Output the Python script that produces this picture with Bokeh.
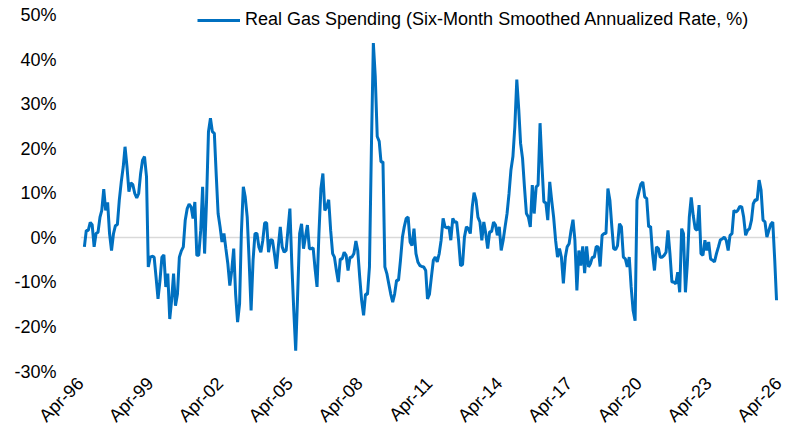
import math
import pandas as pd
from bokeh.plotting import figure
from bokeh.models import (Range1d, FixedTicker, DatetimeTickFormatter, PrintfTickFormatter,
                          Legend, LegendItem, ColumnDataSource)
from bokeh.embed import file_html
from bokeh.resources import INLINE

# ---- data: real gas spending, six-month smoothed annualized rate (%) ----
start_month = "1996-06-01"

spending_1996_2003 = [-2, 1.7, 1.7, 3.5, 3, -2, 1, 1.3, 4.7, 6.2, 11, 6.2, 8, 1, -2.8, 1, 2.8, 3, 8.5,
                      12.6, 16, 20.5, 16, 10.4, 12.4, 12, 10, 9, 10, 14.5, 17.5, 18.3, 13.8, -6.5, -4.3,
                      -4.1, -4.3, -8.8, -13.7, -9.5, -4.3, -3.8, -11, -8, -18.2, -14, -8, -15.2, -12.6,
                      -4.3, -2.9, -2, 4, 6.6, 7.6, 7, 4.4, 8.1, -3.9, -3.9, 1.7, 11.5, -3.5, 8.5, 23.9,
                      26.9, 23.9, 23.5, 13.8, 5.5, 2.5, -0.9, 1, -2.4, -5.8, -10.7, -7.3, -2.4, -12.6,
                      -18.9, -14.8, 1, 11.5, 9.2, 4.7]

spending_2003_2011 = [-5, -16.3, -5, 1, 1, -2, -3.2, -0.5, 3.4, 3.4, -3.2, -0.4, -0.5, -3.5, -6.9, -2,
                      2.5, -2, -3.2, -2.8, 1.7, 6.6, -5.8, -16.3, -25.3, -12.6, 1, 3.2, -2.4, 0.2, 2.9,
                      -2.4, -2.4, -2.2, -6.9, -11, 1, 11.1, 14.5, 6.2, 7, 8.6, 1.7, -3.5, -4.3, -7.3,
                      -9.9, -4.7, -4.7, -3.2, -3.9, -7.3, -4.3, -4.3, -3.5, -0.7, -2.8, -8.8, -14, -17.4,
                      -12.6, -12.7, -6.5, 19.8, 43.8, 36.3, 22.8, 21.7, 17.1, 17.1, -6.5, -8, -10.3,
                      -12.6, -14.4, -12.6, -9.5, -9.5, -5, 0.2, 2.5, 4.4, 4.7, -0.9, -1.7, 2.1, -3.5,
                      -5.4, -6.2, -6.4, -6.5, -7.3, -13.7]

spending_2011_2018 = [-12.6, -8.8, -5, -4.3, -5.4, -3.5, -0.5, 4.4, 2.5, 2.3, 2.5, -0.5, 4.4, 3.6, 3.6,
                      -0.5, -6.2, -6, 0.2, 2.5, 2.1, 1, 7, 10.2, 8.5, 4.7, 3.6, -0.5, 3.6, 1, -2.4, 1.4,
                      1.4, 3.6, 2.9, 0.6, 2.5, -2.8, -0.5, 2.5, 5.5, 10, 15.3, 18.3, 25, 35.6, 28.8,
                      21.3, 17.9, 11.5, 5.5, 4.7, 2.5, 11.9, 5.5, 11.5, 11.9, 25.8, 16, 8.1, 7.9, 4,
                      12.6, 8.5, 4.7, -0.5, -4.3, -2.4, -4.3, -10.2, -4.3, -2, -1.3, 1.7, 4.1, -0.5,
                      -11.8, -2.8, -6.2, -1.9, -7.9, -1.9, -6.5, -5.8, -4.3, -4.3, -1.9, -2, -6.4, 0.6,
                      1, 1, 11.1]

spending_2018_2026 = [8.5, 2.5, -2.4, -2.6, -1.7, 3.2, 2.5, -4.3, -4.7, -6.5, -4.3, -11, -16.3, -18.6,
                      8.5, 10.4, 12.1, 12.6, 9.2, 8.9, 2.5, 2.6, -3.5, -7.3, -2, -2.4, -4.3, -4.3, -3.9,
                      -3.2, 1.7, -3.5, -9.9, -9.9, -10.3, -7.7, -12.2, 2.1, 1, -12.2, -5.8, 4.7, 9.1,
                      5.1, 2.1, 1.7, 7.4, -3.5, -3.9, -0.5, -2.8, -0.9, -4.7, -5, -5.4, -3.5, -2, -0.4,
                      -0.2, 0.2, -0.5, -2.8, 0.6, 1, 6.2, 5.8, 6.2, 7.1, 7, 4.7, 0.6, 1.7, 2.1, 4, 7.7,
                      8.6, 8.5, 13, 10.8, 4, 3.6, 0.2, 1.7, 3.1, 3.6, -5, -14]

series_label = "Real Gas Spending (Six-Month Smoothed Annualized Rate, %)"
x_tick_dates = ["1996-04-01", "1999-04-01", "2002-04-01", "2005-04-01", "2008-04-01", "2011-04-01",
                "2014-04-01", "2017-04-01", "2020-04-01", "2023-04-01", "2026-04-01"]
y_ticks = [-30, -20, -10, 0, 10, 20, 30, 40, 50]

values = spending_1996_2003 + spending_2003_2011 + spending_2011_2018 + spending_2018_2026
dates = pd.date_range(start_month, periods=len(values), freq="MS")
source = ColumnDataSource(data=dict(date=dates, value=values))

FONT = "Liberation Sans"
TEXT = "#000000"

# small headroom above the 50% tick so the legend (drawn in the frame) is not clipped
y_top = y_ticks[-1] + 1.12

p = figure(width=792, height=435, output_backend="svg", toolbar_location=None,
           x_axis_type="datetime",
           x_range=Range1d(pd.Timestamp(x_tick_dates[0]), pd.Timestamp(x_tick_dates[-1])),
           y_range=Range1d(y_ticks[0], y_top),
           min_border_left=80, min_border_right=14, min_border_top=10, min_border_bottom=64)
p.outline_line_color = None
p.background_fill_color = "white"

# gridlines: only the zero line
p.xgrid.visible = False
p.ygrid.ticker = FixedTicker(ticks=[0])
p.ygrid.grid_line_color = "#D9D9D9"
p.ygrid.grid_line_width = 1.5

line = p.line("date", "value", source=source, line_color="#0070C0", line_width=3)

# axes
tick_ms = [pd.Timestamp(d).value // 10**6 for d in x_tick_dates]
p.xaxis.ticker = FixedTicker(ticks=tick_ms)
fmt = "%b-%y"
p.xaxis.formatter = DatetimeTickFormatter(years=fmt, months=fmt, days=fmt, hours=fmt,
                                          minutes=fmt, seconds=fmt, milliseconds=fmt,
                                          microseconds=fmt, minsec=fmt, hourmin=fmt)
p.xaxis.major_label_orientation = math.pi / 4
p.yaxis.ticker = FixedTicker(ticks=y_ticks)
p.yaxis.formatter = PrintfTickFormatter(format="%d%%")

for ax in (p.xaxis[0], p.yaxis[0]):
    ax.axis_line_color = None
    ax.major_tick_line_color = None
    ax.minor_tick_line_color = None
    ax.major_tick_out = 0
    ax.major_tick_in = 0
    ax.minor_tick_out = 0
    ax.major_label_text_font = FONT
    ax.major_label_text_font_size = "18px"
    ax.major_label_text_color = TEXT
p.yaxis.major_label_standoff = 24
p.xaxis.major_label_standoff = 9

legend = Legend(items=[LegendItem(label=series_label, renderers=[line])],
                location=(117, 341), orientation="horizontal",
                glyph_width=43, glyph_height=20, label_height=20, label_standoff=5,
                padding=0, margin=0, spacing=0,
                border_line_color=None, background_fill_alpha=0,
                label_text_font=FONT, label_text_font_size="18px", label_text_color=TEXT)
p.add_layout(legend)

open("out.html", "w").write(file_html(p, INLINE))
